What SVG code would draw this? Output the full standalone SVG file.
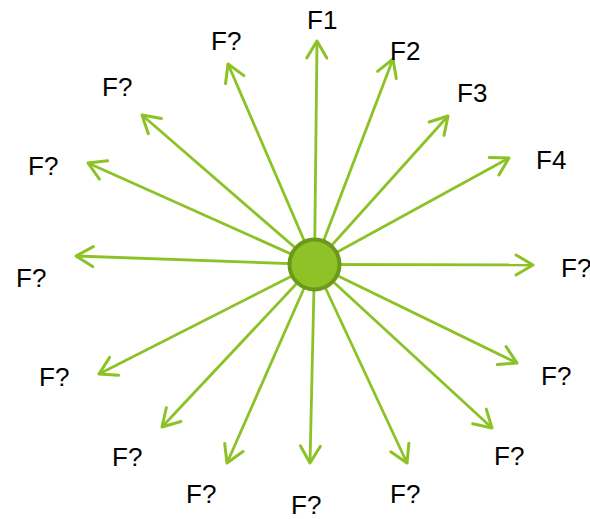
<svg xmlns="http://www.w3.org/2000/svg" width="590" height="519" viewBox="0 0 590 519">
<style>
.c line{stroke:#8cc226;stroke-width:2.8;fill:none;marker-end:url(#ah)}
.t{font-family:"Liberation Sans",Arial,sans-serif;font-size:26px;fill:#000}
</style>
<defs>
<marker id="ah" markerUnits="userSpaceOnUse" markerWidth="40" markerHeight="40" viewBox="-20 -20 40 40" refX="0" refY="0" orient="auto">
<path d="M-17,-10 L0,0 L-17,10" fill="none" stroke="#8cc226" stroke-width="3" stroke-linecap="round" stroke-linejoin="round"/>
</marker>
</defs>
<rect width="590" height="519" fill="#fff"/>
<g id="connectors" class="c">
<line x1="314.5" y1="264.5" x2="317" y2="41"/>
<line x1="314.5" y1="264.5" x2="393" y2="59"/>
<line x1="314.5" y1="264.5" x2="448" y2="116"/>
<line x1="314.5" y1="264.5" x2="509" y2="158"/>
<line x1="314.5" y1="264.5" x2="533" y2="265"/>
<line x1="314.5" y1="264.5" x2="517" y2="363"/>
<line x1="314.5" y1="264.5" x2="492" y2="428"/>
<line x1="314.5" y1="264.5" x2="407" y2="463"/>
<line x1="314.5" y1="264.5" x2="310" y2="463"/>
<line x1="314.5" y1="264.5" x2="227" y2="463"/>
<line x1="314.5" y1="264.5" x2="162" y2="427"/>
<line x1="314.5" y1="264.5" x2="99" y2="374"/>
<line x1="314.5" y1="264.5" x2="76" y2="256"/>
<line x1="314.5" y1="264.5" x2="88" y2="163"/>
<line x1="314.5" y1="264.5" x2="142" y2="115"/>
<line x1="314.5" y1="264.5" x2="228" y2="64"/>
</g>
<g id="hub"><circle cx="314.5" cy="264.5" r="25" fill="#8fc226" stroke="#6b9a1b" stroke-width="4"/></g>
<g id="n1"><text class="t" x="307" y="29">F1</text></g>
<g id="n2"><text class="t" x="390" y="60">F2</text></g>
<g id="n3"><text class="t" x="457" y="102">F3</text></g>
<g id="n4"><text class="t" x="536" y="169">F4</text></g>
<g id="n5"><text class="t" x="561" y="277">F?</text></g>
<g id="n6"><text class="t" x="541" y="385">F?</text></g>
<g id="n7"><text class="t" x="494" y="465">F?</text></g>
<g id="n8"><text class="t" x="390" y="503">F?</text></g>
<g id="n9"><text class="t" x="291" y="514">F?</text></g>
<g id="n10"><text class="t" x="186" y="503">F?</text></g>
<g id="n11"><text class="t" x="112" y="466">F?</text></g>
<g id="n12"><text class="t" x="39" y="386">F?</text></g>
<g id="n13"><text class="t" x="16" y="287">F?</text></g>
<g id="n14"><text class="t" x="28" y="175">F?</text></g>
<g id="n15"><text class="t" x="102" y="96">F?</text></g>
<g id="n16"><text class="t" x="211" y="50">F?</text></g>
</svg>
